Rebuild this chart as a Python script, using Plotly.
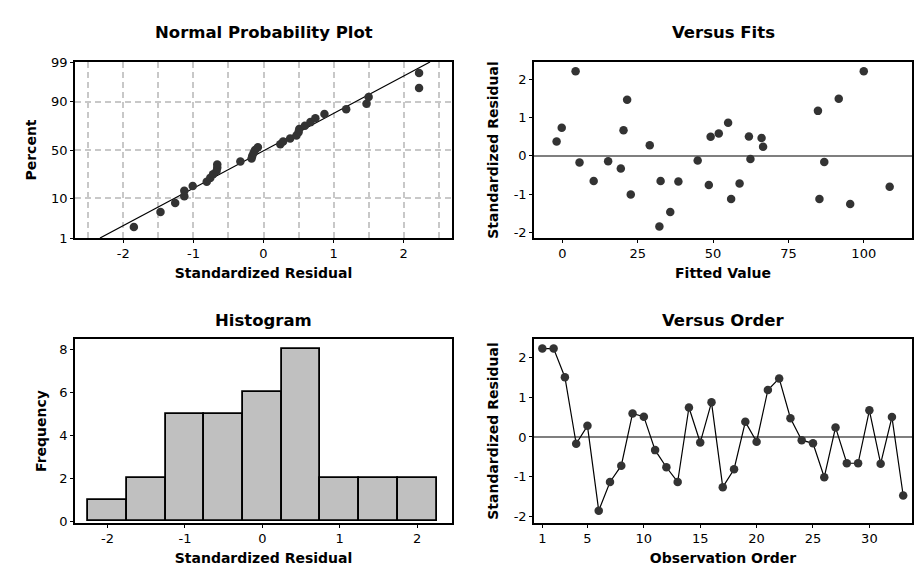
import numpy as np
import plotly.graph_objects as go
from statistics import NormalDist

# ---- data ----
observation = list(range(1, 34))
residuals = [2.22, 2.22, 1.50, -0.17, 0.28, -1.85, -1.13, -0.72, 0.59, 0.51,
             -0.33, -0.76, -1.13, 0.74, -0.14, 0.87, -1.26, -0.81, 0.38, -0.12,
             1.18, 1.47, 0.47, -0.08, -0.16, -1.01, 0.24, -0.66, -0.66, 0.67,
             -0.67, 0.50, -1.47]
fitted = [4.4, 100.0, 91.7, 5.7, 29.0, 32.2, 56.0, 58.8, 51.9, 61.9,
          19.4, 48.6, 85.3, -0.2, 15.2, 55.0, 95.5, 108.6, -1.9, 44.9,
          84.8, 21.5, 66.1, 62.4, 86.9, 22.7, 66.6, 10.4, 32.6, 20.3,
          38.5, 49.2, 35.8]
pct_ticks = [1, 10, 50, 90, 99]
res_ticks = [-2, -1, 0, 1, 2]
fit_ticks = [0, 25, 50, 75, 100]
freq_ticks = [0, 2, 4, 6, 8]
order_ticks = [1, 5, 10, 15, 20, 25, 30]

nd = NormalDist()
n = len(residuals)
sorted_res = sorted(residuals)
# Benard median ranks
z_pts = [nd.inv_cdf((i + 1 - 0.3) / (n + 0.4)) for i in range(n)]
mu = float(np.mean(residuals))
sd = float(np.std(residuals, ddof=1))
z_line = np.linspace(nd.inv_cdf(0.01), nd.inv_cdf(0.99), 60)
x_line = mu + sd * z_line
pct_vals = [nd.inv_cdf(p / 100) for p in pct_ticks]

MK = dict(color="#333333", size=8.5)
fig = go.Figure()
fig.add_trace(go.Scatter(x=x_line, y=z_line, mode="lines", line=dict(color="black", width=1.2),
                         xaxis="x", yaxis="y", showlegend=False, hoverinfo="skip"))
fig.add_trace(go.Scatter(x=sorted_res, y=z_pts, mode="markers", marker=MK,
                         xaxis="x", yaxis="y", showlegend=False))
fig.add_trace(go.Scatter(x=fitted, y=residuals, mode="markers", marker=MK,
                         xaxis="x2", yaxis="y2", showlegend=False))
fig.add_trace(go.Histogram(x=residuals, xbins=dict(start=-2.25, end=2.25, size=0.5),
                           marker=dict(color="#C0C0C0", line=dict(color="black", width=1.8)),
                           xaxis="x3", yaxis="y3", showlegend=False))
fig.add_trace(go.Scatter(x=observation, y=residuals, mode="lines+markers", marker=MK,
                         line=dict(color="black", width=1.2),
                         xaxis="x4", yaxis="y4", showlegend=False))

FONT = "DejaVu Sans"
TICKF = dict(family=FONT, size=13, color="black")
TITF = dict(family=FONT, size=14, color="black")


def labels(vals):
    return [str(v).replace("\u2212", "-") for v in vals]


def ax(domain, rng, title, anchor, standoff, tickvals, ticktext=None, **kw):
    d = dict(domain=domain, range=rng, showline=True, mirror=True, linecolor="black",
             linewidth=1.6, ticks="outside", ticklen=3, tickcolor="black", tickwidth=1,
             tickfont=TICKF, showgrid=False, zeroline=False, anchor=anchor,
             tickvals=tickvals, ticktext=ticktext if ticktext else labels(tickvals),
             title=dict(text=f"<b>{title}</b>", font=TITF, standoff=standoff),
             automargin=False)
    d.update(kw)
    return d


xd1 = [75 / 918, 452 / 918]
xd2 = [534 / 918, 912 / 918]
yd1 = [1 - 238 / 577, 1 - 62 / 577]
yd2 = [1 - 523 / 577, 1 - 339 / 577]
grid = dict(showgrid=True, gridcolor="#C8C8C8", griddash="6px,4px", gridwidth=1.5)

fig.update_layout(
    width=918, height=577, margin=dict(l=0, r=0, t=0, b=0),
    paper_bgcolor="white", plot_bgcolor="white", bargap=0,
    font=dict(family=FONT, color="black"),
    xaxis=ax(xd1, [-2.69, 2.69], "Standardized Residual", "y", 8, res_ticks, **grid,
             minor=dict(dtick=0.5, tick0=0, showgrid=True, gridcolor="#C8C8C8",
                        griddash="6px,4px", gridwidth=1.5, ticks="")),
    yaxis=ax(yd1, [pct_vals[0], pct_vals[-1]], "Percent", "x", 11, pct_vals,
             [str(p) for p in pct_ticks], **grid),
    xaxis2=ax(xd2, [-9.4, 116], "Fitted Value", "y2", 8, fit_ticks),
    yaxis2=ax(yd1, [-2.15, 2.46], "Standardized Residual", "x2", 12, res_ticks),
    xaxis3=ax(xd1, [-2.42, 2.45], "Standardized Residual", "y3", 8, res_ticks),
    yaxis3=ax(yd2, [-0.08, 8.48], "Frequency", "x3", 9, freq_ticks),
    xaxis4=ax(xd2, [0.26, 33.78], "Observation Order", "y4", 8, order_ticks),
    yaxis4=ax(yd2, [-2.16, 2.46], "Standardized Residual", "x4", 12, res_ticks),
    shapes=[
        dict(type="line", xref="x2 domain", yref="y2", x0=0, x1=1, y0=0, y1=0,
             line=dict(color="#555555", width=1.5), layer="below"),
        dict(type="line", xref="x4 domain", yref="y4", x0=0, x1=1, y0=0, y1=0,
             line=dict(color="#555555", width=1.5), layer="below"),
    ],
)

TF = dict(family=FONT, size=16.5, color="black")
for text, xc, yc in [("Normal Probability Plot", (xd1[0] + xd1[1]) / 2, 1 - 33 / 577),
                     ("Versus Fits", (xd2[0] + xd2[1]) / 2, 1 - 33 / 577),
                     ("Histogram", (xd1[0] + xd1[1]) / 2, 1 - 320 / 577),
                     ("Versus Order", (xd2[0] + xd2[1]) / 2, 1 - 320 / 577)]:
    fig.add_annotation(text=f"<b>{text}</b>", x=xc, y=yc, xref="paper", yref="paper",
                       showarrow=False, font=TF, xanchor="center", yanchor="middle")

fig.write_html("out.html")
